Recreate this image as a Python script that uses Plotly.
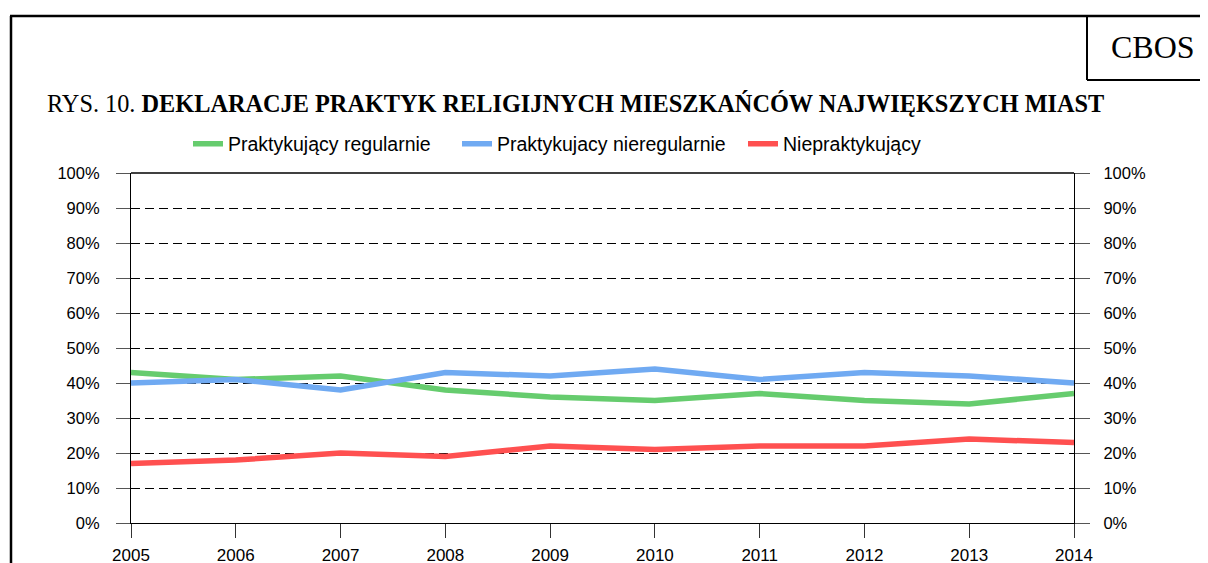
import plotly.graph_objects as go

years = [2005, 2006, 2007, 2008, 2009, 2010, 2011, 2012, 2013, 2014]
regularnie = [43, 41, 42, 38, 36, 35, 37, 35, 34, 37]
nieregularnie = [40, 41, 38, 43, 42, 44, 41, 43, 42, 40]
niepraktykujacy = [17, 18, 20, 19, 22, 21, 22, 22, 24, 23]
names = ["Praktykujący regularnie", "Praktykujacy nieregularnie", "Niepraktykujący"]
colors = ["#66CC6E", "#70AAF2", "#FF5050"]
y_ticks = list(range(0, 101, 10))
y_labels = [f"{v}%" for v in y_ticks]

# page body has an 8px margin; work in reference pixel coords and shift
OFF = 8
W, H = 1208 - OFF, 563 - OFF
L, R, T, B = 131 - OFF, 1074 - OFF, 173 - OFF, 523 - OFF

def px(x):
    return (x - OFF - L) / (R - L)

def py(y):
    return (B - (y - OFF)) / (B - T)

legend_ids = ["legend", "legend2", "legend3"]
legend_x = [188, 457, 743]

fig = go.Figure()
for vals, name, col, lid in zip([regularnie, nieregularnie, niepraktykujacy], names, colors, legend_ids):
    fig.add_trace(go.Scatter(x=years, y=vals, name=name, mode="lines", legend=lid,
                             line=dict(color=col, width=5.5)))
# invisible trace for right axis
fig.add_trace(go.Scatter(x=years, y=regularnie, yaxis="y2", showlegend=False,
                         mode="lines", line=dict(width=0), hoverinfo="skip", opacity=0))

font_y = dict(family="Liberation Sans, Arial", size=16.5, color="#000")
font_x = dict(family="Liberation Sans, Arial", size=17, color="#000")

legend_common = dict(orientation="h", yanchor="middle", xanchor="left", y=py(144),
                     font=dict(family="Liberation Sans, Arial", size=19.5, color="#000"),
                     itemwidth=30, bgcolor="rgba(0,0,0,0)")

fig.update_layout(
    template="none",
    width=W, height=H,
    margin=dict(l=L, r=W - R, t=T, b=H - B, pad=0, autoexpand=False),
    paper_bgcolor="white", plot_bgcolor="white",
    showlegend=True,
    legend=dict(x=px(legend_x[0]), **legend_common),
    legend2=dict(x=px(legend_x[1]), **legend_common),
    legend3=dict(x=px(legend_x[2]), **legend_common),
    xaxis=dict(range=[2005, 2014], tickvals=years, ticktext=[str(y) for y in years],
               showgrid=False, zeroline=False, showline=True, linecolor="#000", linewidth=1.2,
               ticks="outside", ticklen=14, tickcolor="#333", tickwidth=1, automargin=False,
               tickfont=font_x, ticklabelstandoff=2),
    yaxis=dict(range=[0, 100], tickvals=y_ticks, ticktext=y_labels, automargin=False,
               showgrid=True, gridcolor="#000", gridwidth=1.2, griddash="9px,5px",
               zeroline=False, showline=True, linecolor="#000", linewidth=1.2,
               ticks="outside", ticklen=14, tickcolor="#555", tickwidth=1,
               tickfont=font_y, ticklabelstandoff=13),
    yaxis2=dict(range=[0, 100], tickvals=y_ticks, ticktext=y_labels, overlaying="y", side="right",
                showgrid=False, zeroline=False, showline=True, linecolor="#000", linewidth=1.2,
                ticks="outside", ticklen=15, tickcolor="#555", tickwidth=1, automargin=False,
                tickfont=font_y, ticklabelstandoff=10),
)

shapes = [
    dict(type="line", xref="paper", yref="paper", x0=0, x1=1, y0=1, y1=1,
         line=dict(color="#000", width=1.5)),
    dict(type="line", xref="paper", yref="paper", x0=px(10), x1=px(1215), y0=py(16), y1=py(16),
         line=dict(color="#000", width=2.5)),
    dict(type="line", xref="paper", yref="paper", x0=px(11), x1=px(11), y0=py(16), y1=py(580),
         line=dict(color="#000", width=2.5)),
    dict(type="line", xref="paper", yref="paper", x0=px(1087), x1=px(1087), y0=py(16), y1=py(80),
         line=dict(color="#000", width=2)),
    dict(type="line", xref="paper", yref="paper", x0=px(1087), x1=px(1215), y0=py(80), y1=py(80),
         line=dict(color="#000", width=2)),
]
fig.update_layout(shapes=shapes)

fig.add_annotation(xref="paper", yref="paper", x=px(1153), y=py(47), xanchor="center", yanchor="middle",
                   text="CBOS", showarrow=False,
                   font=dict(family="Liberation Serif, Times New Roman", size=32, color="#000"))
fig.add_annotation(xref="paper", yref="paper", x=px(45), y=py(103), xanchor="left", yanchor="middle",
                   text="RYS. 10. <b>DEKLARACJE PRAKTYK RELIGIJNYCH MIESZKAŃCÓW NAJWIĘKSZYCH MIAST</b>",
                   showarrow=False,
                   font=dict(family="Liberation Serif, Times New Roman", size=24.3, color="#000"))

fig.write_html("out.html")
